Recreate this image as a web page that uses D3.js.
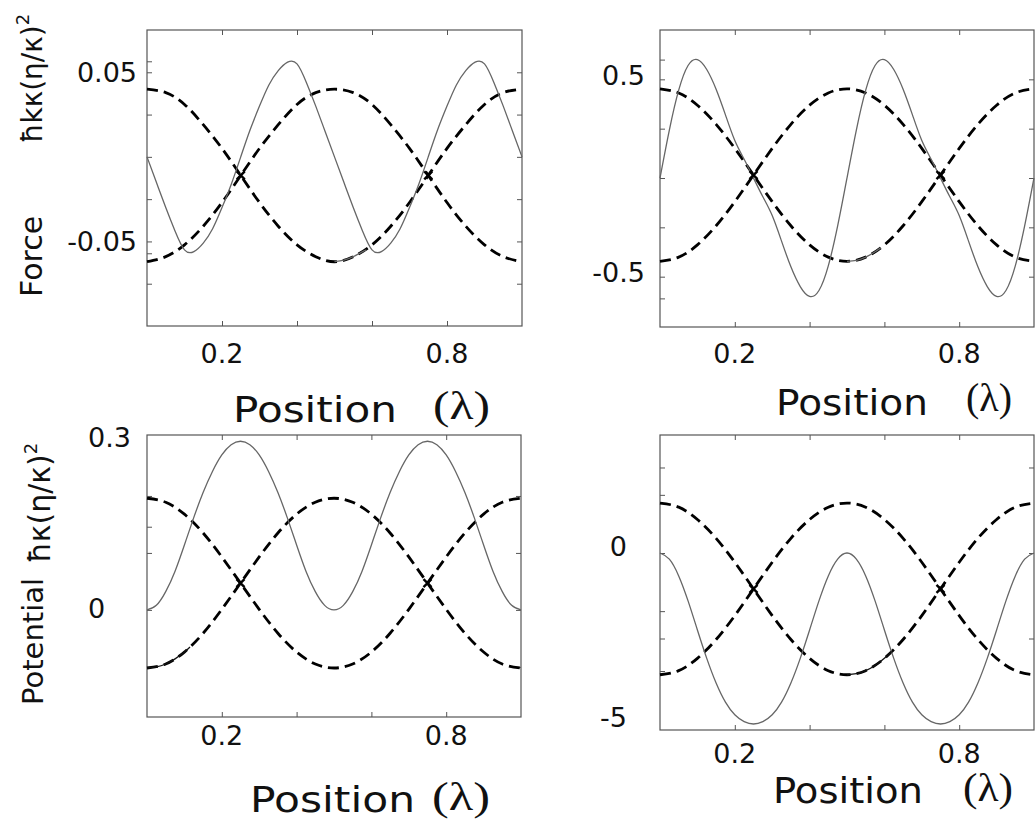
<!DOCTYPE html>
<html>
<head>
<meta charset="utf-8">
<script src="https://cdn.jsdelivr.net/npm/d3@7"></script>
<style>
body { margin: 0; background: #fff; }
text { font-family: "DejaVu Sans", sans-serif; fill: #111; }
.serif { font-family: "Liberation Serif", serif; }
</style>
</head>
<body>
<svg id="chart" width="1035" height="827"></svg>
<script>
// position along the standing wave, in wavelengths
var posFine = [0, 0.025, 0.05, 0.075, 0.1, 0.125, 0.15, 0.175, 0.2, 0.225, 0.25, 0.275, 0.3, 0.325, 0.35, 0.375, 0.4, 0.425, 0.45, 0.475,
               0.5, 0.525, 0.55, 0.575, 0.6, 0.625, 0.65, 0.675, 0.7, 0.725, 0.75, 0.775, 0.8, 0.825, 0.85, 0.875, 0.9, 0.925, 0.95, 0.975, 1];
var posCoarse = [0, 0.05, 0.1, 0.15, 0.2, 0.25, 0.3, 0.35, 0.4, 0.45, 0.5, 0.55, 0.6, 0.65, 0.7, 0.75, 0.8, 0.85, 0.9, 0.95, 1];

// top left: force
var forceLeftSolid = [0, -0.015, -0.030, -0.044, -0.055, -0.056, -0.051, -0.0425, -0.030, -0.016, 0, 0.016, 0.030, 0.0425, 0.051, 0.056, 0.055, 0.044, 0.030, 0.015,
                      0, -0.015, -0.030, -0.044, -0.055, -0.056, -0.051, -0.0425, -0.030, -0.016, 0, 0.016, 0.030, 0.0425, 0.051, 0.056, 0.055, 0.044, 0.030, 0.015, 0];
var forceLeftUpper = [0.040, 0.038, 0.031, 0.019, 0.005, -0.011, -0.027, -0.041, -0.052, -0.059, -0.062, -0.059, -0.052, -0.041, -0.027, -0.011, 0.005, 0.019, 0.031, 0.038, 0.040];
var forceLeftLower = [-0.062, -0.059, -0.052, -0.041, -0.027, -0.011, 0.005, 0.019, 0.031, 0.038, 0.040, 0.038, 0.031, 0.019, 0.005, -0.011, -0.027, -0.041, -0.052, -0.059, -0.062];
var forceLeftJumpPos = [0.5, 0.525, 0.55, 0.575, 0.585];
var forceLeftJump = [-0.062, -0.061, -0.059, -0.056, -0.055];

// top right: force
var forceRightSolid = [0, 0.243, 0.445, 0.570, 0.600, 0.550, 0.450, 0.320, 0.190, 0.095, 0, -0.095, -0.190, -0.320, -0.450, -0.550, -0.600, -0.570, -0.445, -0.243,
                       0, 0.243, 0.445, 0.570, 0.600, 0.550, 0.450, 0.320, 0.190, 0.095, 0, -0.095, -0.190, -0.320, -0.450, -0.550, -0.600, -0.570, -0.445, -0.243, 0];
var forceRightUpper = [0.452, 0.431, 0.369, 0.272, 0.150, 0.015, -0.120, -0.242, -0.339, -0.401, -0.422, -0.401, -0.339, -0.242, -0.120, 0.015, 0.150, 0.272, 0.369, 0.431, 0.452];
var forceRightLower = [-0.422, -0.401, -0.339, -0.242, -0.120, 0.015, 0.150, 0.272, 0.369, 0.431, 0.452, 0.431, 0.369, 0.272, 0.150, 0.015, -0.120, -0.242, -0.339, -0.401, -0.422];
var forceRightJumpPos = [0.5, 0.525, 0.55, 0.575, 0.59];
var forceRightJump = [-0.422, -0.417, -0.401, -0.374, -0.354];

// bottom left: potential
var potLeftSolid = [0, 0.008, 0.032, 0.068, 0.114, 0.162, 0.206, 0.243, 0.272, 0.290, 0.296, 0.290, 0.272, 0.243, 0.206, 0.162, 0.114, 0.068, 0.032, 0.008,
                    0, 0.008, 0.032, 0.068, 0.114, 0.162, 0.206, 0.243, 0.272, 0.290, 0.296, 0.290, 0.272, 0.243, 0.206, 0.162, 0.114, 0.068, 0.032, 0.008, 0];
var potLeftUpper = [0.196, 0.189, 0.168, 0.135, 0.093, 0.047, 0.001, -0.041, -0.074, -0.095, -0.102, -0.095, -0.074, -0.041, 0.001, 0.047, 0.093, 0.135, 0.168, 0.189, 0.196];
var potLeftLower = [-0.102, -0.095, -0.074, -0.041, 0.001, 0.047, 0.093, 0.135, 0.168, 0.189, 0.196, 0.189, 0.168, 0.135, 0.093, 0.047, 0.001, -0.041, -0.074, -0.095, -0.102];
var potLeftJumpPos = [0, 0.025, 0.05, 0.075, 0.1, 0.115];
var potLeftJump = [-0.102, -0.100, -0.095, -0.086, -0.074, -0.065];

// bottom right: potential
var potRightSolid = [0, -0.18, -0.67, -1.40, -2.25, -3.08, -3.80, -4.36, -4.73, -4.93, -5.00, -4.93, -4.73, -4.36, -3.80, -3.08, -2.25, -1.40, -0.67, -0.18,
                     0, -0.18, -0.67, -1.40, -2.25, -3.08, -3.80, -4.36, -4.73, -4.93, -5.00, -4.93, -4.73, -4.36, -3.80, -3.08, -2.25, -1.40, -0.67, -0.18, 0];
var potRightUpper = [1.46, 1.34, 0.98, 0.43, -0.27, -1.05, -1.83, -2.53, -3.08, -3.44, -3.56, -3.44, -3.08, -2.53, -1.83, -1.05, -0.27, 0.43, 0.98, 1.34, 1.46];
var potRightLower = [-3.56, -3.44, -3.08, -2.53, -1.83, -1.05, -0.27, 0.43, 0.98, 1.34, 1.46, 1.34, 0.98, 0.43, -0.27, -1.05, -1.83, -2.53, -3.08, -3.44, -3.56];
var potRightJumpPos = [0.5, 0.525, 0.55, 0.575, 0.6, 0.62];
var potRightJump = [-3.56, -3.53, -3.44, -3.29, -3.08, -2.88];

// crossing points of the dashed curves
var crossPos = [0.25, 0.75];
var crossForceLeft = [-0.011, -0.011];
var crossForceRight = [0.015, 0.015];
var crossPotLeft = [0.047, 0.047];
var crossPotRight = [-1.05, -1.05];

// ticks
var xTicks = [0.2, 0.4, 0.6, 0.8];
var xTickLabels = ["0.2", "0.8"];
var xTickLabelVals = [0.2, 0.8];
var forceLeftTicks = [-0.075, -0.05, -0.025, 0, 0.025, 0.05];
var forceLeftExtra = [0.0565, -0.057];
var forceLeftLabelVals = [0.05, -0.05];
var forceLeftLabels = ["0.05", "-0.05"];
var forceRightTicks = [-0.5, -0.25, 0, 0.25, 0.5];
var forceRightExtra = [0.60, -0.61];
var forceRightLabelVals = [0.5, -0.5];
var forceRightLabels = ["0.5", "-0.5"];
var potLeftTicks = [-0.1, 0, 0.1, 0.2];
var potLeftExtra = [0.146];
var potLeftLabelVals = [0.3, 0];
var potLeftLabels = ["0.3", "0"];
var potRightTicks = [2.5, 0, -2.5];
var potRightExtra = [1.7, -1.7, -3.45];
var potRightLabelVals = [0, -5];
var potRightLabels = ["0", "-5"];

var svg = d3.select("#chart");

var panels = [
    {left: 147, right: 522, top: 30, bottom: 326, yDomain: [-0.1, 0.075],
     solid: forceLeftSolid, upper: forceLeftUpper, lower: forceLeftLower,
     jumpPos: forceLeftJumpPos, jump: forceLeftJump, jumpColor: "#666", cross: crossForceLeft,
     ticks: forceLeftTicks, extra: forceLeftExtra, labelVals: forceLeftLabelVals, labels: forceLeftLabels,
     yLabelX: 137, yLabelAnchor: "end", yLabelDy: 0, xLabelY: 353,
     posX: 233, posW: 164, posY: 422, lamX: 433, lamW: 57, lamY: 419},
    {left: 660, right: 1034, top: 30, bottom: 327, yDomain: [-0.755, 0.75],
     solid: forceRightSolid, upper: forceRightUpper, lower: forceRightLower,
     jumpPos: forceRightJumpPos, jump: forceRightJump, jumpColor: "#666", cross: crossForceRight,
     ticks: forceRightTicks, extra: forceRightExtra, labelVals: forceRightLabelVals, labels: forceRightLabels,
     yLabelX: 645, yLabelAnchor: "end", yLabelDy: -4, xLabelY: 353,
     posX: 776, posW: 152, posY: 415, lamX: 966, lamW: 46, lamY: 411},
    {left: 147, right: 521, top: 435, bottom: 717, yDomain: [-0.188, 0.307],
     solid: potLeftSolid, upper: potLeftUpper, lower: potLeftLower,
     jumpPos: potLeftJumpPos, jump: potLeftJump, jumpColor: "#111", cross: crossPotLeft,
     ticks: potLeftTicks, extra: potLeftExtra, labelVals: potLeftLabelVals, labels: potLeftLabels,
     yLabelX: 88, yLabelAnchor: "start", yLabelDy: -1, xLabelY: 735,
     posX: 250, posW: 165, posY: 812, lamX: 432, lamW: 58, lamY: 810},
    {left: 660, right: 1034, top: 435, bottom: 730, yDomain: [-5.175, 3.45],
     solid: potRightSolid, upper: potRightUpper, lower: potRightLower,
     jumpPos: potRightJumpPos, jump: potRightJump, jumpColor: "#111", cross: crossPotRight,
     ticks: potRightTicks, extra: potRightExtra, labelVals: potRightLabelVals, labels: potRightLabels,
     yLabelX: 627, yLabelAnchor: "end", yLabelDy: -7, xLabelY: 753,
     posX: 773, posW: 150, posY: 803, lamX: 963, lamW: 50, lamY: 801}
];

function drawPanel(p) {
    var x = d3.scaleLinear().domain([0, 1]).range([p.left, p.right]);
    var y = d3.scaleLinear().domain(p.yDomain).range([p.bottom, p.top]);
    var g = svg.append("g");

    var allY = p.ticks.concat(p.extra);

    g.append("g").attr("transform", "translate(0," + p.bottom + ")")
        .call(d3.axisBottom(x).tickValues(xTicks).tickSize(-5).tickFormat(""));
    g.append("g").attr("transform", "translate(0," + p.top + ")")
        .call(d3.axisTop(x).tickValues(xTicks).tickSize(-5).tickFormat(""));
    g.append("g").attr("transform", "translate(" + p.left + ",0)")
        .call(d3.axisLeft(y).tickValues(allY).tickSize(-5).tickFormat(""));
    g.append("g").attr("transform", "translate(" + p.right + ",0)")
        .call(d3.axisRight(y).tickValues(p.ticks).tickSize(-5).tickFormat(""));
    g.selectAll(".domain").remove();
    g.selectAll(".tick line").attr("stroke", "#555");

    g.append("rect")
        .attr("x", p.left).attr("y", p.top)
        .attr("width", p.right - p.left).attr("height", p.bottom - p.top)
        .attr("fill", "none").attr("stroke", "#555").attr("stroke-width", 1.2);

    var line = d3.line()
        .x(function (d) { return x(d[0]); })
        .y(function (d) { return y(d[1]); })
        .curve(d3.curveNatural);

    [p.upper, p.lower].forEach(function (vals) {
        g.append("path")
            .datum(d3.zip(posCoarse, vals))
            .attr("d", line)
            .attr("fill", "none")
            .attr("stroke", "#000")
            .attr("stroke-width", 2.8)
            .attr("stroke-dasharray", "11,6");
    });

    g.append("path")
        .datum(d3.zip(posFine, p.solid))
        .attr("d", line)
        .attr("fill", "none")
        .attr("stroke", "#666")
        .attr("stroke-width", 1.3);

    g.append("path")
        .datum(d3.zip(p.jumpPos, p.jump))
        .attr("d", line)
        .attr("fill", "none")
        .attr("stroke", p.jumpColor)
        .attr("stroke-width", 1.3);

    // crossing marks
    d3.zip(crossPos, p.cross).forEach(function (c) {
        var cx = x(c[0]), cy = y(c[1]);
        g.append("path")
            .attr("d", "M" + (cx - 4) + "," + (cy - 4) + "L" + (cx + 4) + "," + (cy + 4) +
                       "M" + (cx - 4) + "," + (cy + 4) + "L" + (cx + 4) + "," + (cy - 4))
            .attr("stroke", "#000").attr("stroke-width", 2.4);
    });

    // tick labels
    xTickLabelVals.forEach(function (v, i) {
        g.append("text")
            .attr("x", x(v)).attr("y", p.xLabelY)
            .attr("text-anchor", "middle").attr("dominant-baseline", "central")
            .attr("font-size", 27)
            .text(xTickLabels[i]);
    });
    p.labelVals.forEach(function (v, i) {
        g.append("text")
            .attr("x", p.yLabelX).attr("y", y(v) + p.yLabelDy)
            .attr("text-anchor", p.yLabelAnchor).attr("dominant-baseline", "central")
            .attr("font-size", 27)
            .text(p.labels[i]);
    });

    // axis title
    g.append("text")
        .attr("x", p.posX).attr("y", p.posY)
        .attr("font-size", 35)
        .attr("textLength", p.posW).attr("lengthAdjust", "spacingAndGlyphs")
        .text("Position");
    g.append("text")
        .attr("class", "serif")
        .attr("x", p.lamX).attr("y", p.lamY)
        .attr("font-size", 40)
        .attr("textLength", p.lamW).attr("lengthAdjust", "spacingAndGlyphs")
        .text("(λ)");
}

panels.forEach(drawPanel);

// y titles, rotated
svg.append("text")
    .attr("transform", "translate(42,297) rotate(-90)")
    .attr("font-size", 30)
    .text("Force");
var unitTop = svg.append("text")
    .attr("transform", "translate(42,143) rotate(-90)")
    .attr("font-size", 28);
unitTop.append("tspan").text("ħkκ(η/κ)");
unitTop.append("tspan").attr("dy", -13).attr("font-size", 18).text("2");

svg.append("text")
    .attr("transform", "translate(43,705) rotate(-90)")
    .attr("font-size", 29)
    .text("Potential");
var unitBottom = svg.append("text")
    .attr("transform", "translate(50,563) rotate(-90)")
    .attr("font-size", 30);
unitBottom.append("tspan").text("ħκ(η/κ)");
unitBottom.append("tspan").attr("dy", -13).attr("font-size", 18).text("2");
</script>
</body>
</html>
